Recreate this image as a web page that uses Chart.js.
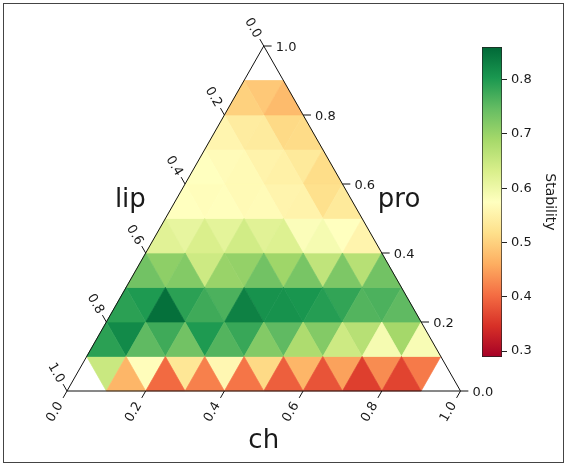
<!DOCTYPE html>
<html><head><meta charset="utf-8">
<script src="https://cdn.jsdelivr.net/npm/chart.js@4.4.1/dist/chart.umd.min.js"></script>
<style>
html,body{margin:0;padding:0;background:#fff;}
#wrap{position:relative;width:569px;height:466px;overflow:hidden;background:#fff;}
#frame{position:absolute;left:3px;top:3px;width:561px;height:460px;border:1px solid #444;box-sizing:border-box;}
#main{position:absolute;left:0;top:0;}
#cb{position:absolute;left:440px;top:0;}
</style></head><body>
<div id="wrap"><div id="frame"></div>
<canvas id="main" width="569" height="466"></canvas>
<canvas id="cb" width="129" height="466"></canvas>
</div>
<script>
// ---------------- data ----------------
const N = 10; // ternary grid divisions
// Stability of upward triangles, row by row from the bottom (pro = r/10), left to right
const stabilityUp = [
  [null, 0.47, 0.40, 0.42, 0.41, 0.39, 0.38, 0.36, 0.365, null],
  [0.79, 0.75, 0.735, 0.76, 0.72, 0.68, 0.645, 0.59, 0.585],
  [0.79, 0.85, 0.775, 0.83, 0.81, 0.795, 0.76, 0.75],
  [0.735, 0.72, 0.70, 0.735, 0.73, 0.725, 0.735],
  [0.62, 0.63, 0.64, 0.625, 0.59, 0.555],
  [0.575, 0.572, 0.567, 0.553, 0.535],
  [0.575, 0.565, 0.548, 0.515],
  [0.557, 0.538, 0.513],
  [0.50, 0.475],
  [null]
];
// Stability of downward triangles, row by row from the bottom, left to right
const stabilityDown = [
  [0.65, 0.57, 0.53, 0.56, 0.51, 0.47, 0.45, 0.43, 0.415],
  [0.82, 0.775, 0.80, 0.78, 0.75, 0.72, 0.67, 0.69],
  [0.80, 0.79, 0.765, 0.81, 0.805, 0.785, 0.765],
  [0.71, 0.645, 0.705, 0.695, 0.66, 0.67],
  [0.61, 0.615, 0.62, 0.58, 0.575],
  [0.57, 0.565, 0.555, 0.52],
  [0.568, 0.553, 0.535],
  [0.54, 0.51],
  [0.49]
];
const vMin = 0.289, vMax = 0.860;
const axisTicks = [0, 0.2, 0.4, 0.6, 0.8, 1.0];
const axisTickLabels = ['0.0', '0.2', '0.4', '0.6', '0.8', '1.0'];
const bottomTitle = 'ch', rightTitle = 'pro', leftTitle = 'lip';
const cbTicks = [0.3, 0.4, 0.5, 0.6, 0.7, 0.8];
const cbTickLabels = ['0.3', '0.4', '0.5', '0.6', '0.7', '0.8'];
const cbTitle = 'Stability';
const rdylgn = ['#a50026','#d73027','#f46d43','#fdae61','#fee08b','#ffffbf','#d9ef8b','#a6d96a','#66bd63','#1a9850','#006837'];

// ---------------- helpers ----------------
function hexRgb(h){return [parseInt(h.slice(1,3),16),parseInt(h.slice(3,5),16),parseInt(h.slice(5,7),16)];}
function colorFor(v){
  let t = (v - vMin) / (vMax - vMin);
  t = Math.max(0, Math.min(1, t));
  const s = t * (rdylgn.length - 1);
  const i = Math.min(Math.floor(s), rdylgn.length - 2);
  const f = s - i;
  const a = hexRgb(rdylgn[i]), b = hexRgb(rdylgn[i+1]);
  const c = a.map((x, j) => Math.round(x + (b[j] - x) * f));
  return `rgb(${c[0]},${c[1]},${c[2]})`;
}
// ternary (ch, pro) -> cartesian data coords
const tern = (ch, pro) => ({x: ch + pro / 2, y: pro});

const datasets = [];
const TICKOFF = 0.02;
// triangle frame
datasets.push({data:[tern(0,0), tern(1,0), tern(0,1), tern(0,0)], borderColor:'#111', borderWidth:1, fill:false, order:0, clip:false, pointRadius:0});
// ticks
axisTicks.forEach(t => {
  const b = tern(t, 0);
  datasets.push({data:[b, {x:b.x - TICKOFF/2, y:b.y - TICKOFF}], borderColor:'#111', borderWidth:1, fill:false, order:0, clip:false, pointRadius:0});
  const r = tern(1 - t, t);
  datasets.push({data:[r, {x:r.x + TICKOFF, y:r.y}], borderColor:'#111', borderWidth:1, fill:false, order:0, clip:false, pointRadius:0});
  const l = tern(0, 1 - t);
  datasets.push({data:[l, {x:l.x - TICKOFF/2, y:l.y + TICKOFF}], borderColor:'#111', borderWidth:1, fill:false, order:0, clip:false, pointRadius:0});
});
// heat-map triangles
function addTri(pts, v){
  if (v === null || v === undefined) return;
  const col = colorFor(v);
  datasets.push({data:[...pts, pts[0]], backgroundColor:col, borderColor:col, borderWidth:0.7, fill:'shape', order:1, clip:false, pointRadius:0});
}
stabilityUp.forEach((row, r) => row.forEach((v, k) => {
  addTri([tern(k/N, r/N), tern((k+1)/N, r/N), tern(k/N, (r+1)/N)], v);
}));
stabilityDown.forEach((row, r) => row.forEach((v, k) => {
  addTri([tern(k/N, (r+1)/N), tern((k+1)/N, (r+1)/N), tern((k+1)/N, r/N)], v);
}));

const FONT = '"DejaVu Sans", sans-serif';
const ternaryText = {
  id: 'ternaryText',
  afterDatasetsDraw(chart){
    const {ctx, scales:{x, y}} = chart;
    const P = p => [x.getPixelForValue(p.x), y.getPixelForValue(p.y)];
    ctx.save();
    ctx.fillStyle = '#1a1a1a';
    ctx.font = '13px ' + FONT;
    const rot = (txt, cx, cy, a) => {
      ctx.save(); ctx.translate(cx, cy); ctx.rotate(a);
      ctx.textAlign = 'center'; ctx.textBaseline = 'middle';
      ctx.fillText(txt, 0, 0); ctx.restore();
    };
    axisTicks.forEach((t, i) => {
      let [px, py] = P(tern(t, 0));
      rot(axisTickLabels[i], px - 12, py + 21, -Math.PI/3);
      [px, py] = P(tern(1 - t, t));
      ctx.textAlign = 'left'; ctx.textBaseline = 'middle';
      ctx.fillText(axisTickLabels[i], px + 12, py + 2);
      [px, py] = P(tern(0, 1 - t));
      rot(axisTickLabels[i], px - 11, py - 18, Math.PI/3);
    });
    ctx.font = '26px ' + FONT;
    ctx.textAlign = 'center'; ctx.textBaseline = 'alphabetic';
    let [px, py] = P(tern(0.5, 0));
    ctx.fillText(bottomTitle, px, py + 57);
    [px, py] = P(tern(0.5, 0.5));
    ctx.fillText(rightTitle, px + 37, py - 12);
    [px, py] = P(tern(0, 0.5));
    ctx.fillText(leftTitle, px - 35, py - 12);
    ctx.restore();
  }
};

new Chart(document.getElementById('main'), {
  type: 'line',
  data: {datasets},
  options: {
    responsive: false, animation: false, devicePixelRatio: 1,
    layout: {padding: {left: 67, right: 108.5, top: 46, bottom: 75}},
    scales: {
      x: {type: 'linear', min: 0, max: 1, display: false},
      y: {type: 'linear', min: 0, max: 1, display: false}
    },
    elements: {point: {radius: 0}, line: {tension: 0, borderJoinStyle: 'miter'}},
    plugins: {legend: {display: false}, tooltip: {enabled: false}}
  },
  plugins: [ternaryText]
});

new Chart(document.getElementById('cb'), {
  type: 'bar',
  data: {labels: [cbTitle], datasets: [{
    data: [[vMin, vMax]],
    backgroundColor: c => {
      const ch = c.chart; if (!ch.chartArea) return null;
      const ys = ch.scales.y;
      const g = ch.ctx.createLinearGradient(0, ys.getPixelForValue(vMin), 0, ys.getPixelForValue(vMax));
      rdylgn.forEach((col, i) => g.addColorStop(i / (rdylgn.length - 1), col));
      return g;
    },
    borderColor: '#222', borderWidth: 1, borderSkipped: false,
    barPercentage: 1, categoryPercentage: 1
  }]},
  options: {
    responsive: false, animation: false, devicePixelRatio: 1,
    layout: {padding: {left: 42, right: 11, top: 47, bottom: 109}},
    scales: {
      x: {display: false},
      y: {
        position: 'right', min: vMin, max: vMax,
        afterBuildTicks: s => { s.ticks = cbTicks.map(v => ({value: v})); },
        afterFit: s => { s.width = 56; },
        grid: {drawOnChartArea: false, drawTicks: true, tickLength: 5, color: '#222'},
        border: {display: false},
        ticks: {padding: 4, color: '#1a1a1a', font: {family: 'DejaVu Sans', size: 13}, callback: (v, i) => cbTickLabels[i]},
        title: {display: true, text: cbTitle, color: '#1a1a1a', font: {family: 'DejaVu Sans', size: 14}, padding: 0}
      }
    },
    plugins: {legend: {display: false}, tooltip: {enabled: false}}
  }
});
</script>
</body></html>
